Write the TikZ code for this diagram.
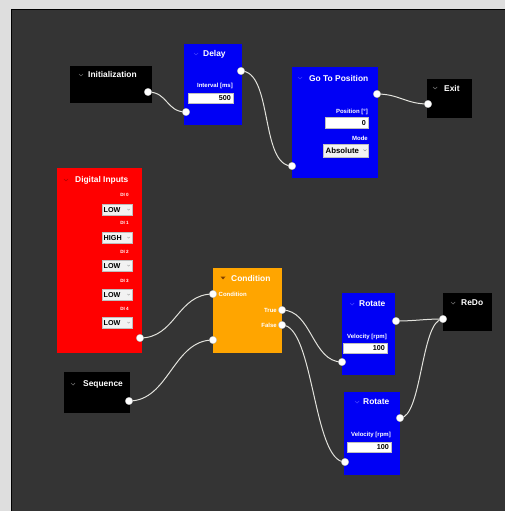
\documentclass[tikz,border=0pt]{standalone}
\usepackage{fontspec}
\setmainfont{Liberation Sans}
\pgfdeclarelayer{bg}
\pgfdeclarelayer{wires}
\pgfsetlayers{bg,wires,main}
\definecolor{panel}{HTML}{343434}
\definecolor{outer}{HTML}{DEDEDE}
\definecolor{nblue}{HTML}{0000F5}
\definecolor{nred}{HTML}{FF0000}
\definecolor{norange}{HTML}{FFA500}
\definecolor{wirec}{HTML}{E2E2DC}
\begin{document}
\begin{tikzpicture}[x=1pt,y=-1pt,
  nodebox/.style={rectangle, draw=none, inner sep=0pt, anchor=north west},
  title/.style={text=white, font=\bfseries\fontsize{8.4pt}{9pt}\selectfont, anchor=west, inner sep=0pt},
  lbl/.style={text=white, font=\bfseries\fontsize{6pt}{6.5pt}\selectfont, anchor=east, inner sep=0pt},
  lblw/.style={lbl, anchor=west},
  field/.style={rectangle, fill=white, draw=black!25, line width=0.4pt, anchor=north west, inner sep=0pt},
  combo/.style={field, fill=black!5},
  val/.style={text=black, font=\bfseries\fontsize{7.2pt}{7.5pt}\selectfont, inner sep=0pt},
  port/.style={circle, fill=white, draw=black!30, line width=0.3pt, minimum size=7.5pt, inner sep=0pt},
  wire/.style={draw=wirec, line width=1pt},
  chev/.style={line width=0.7pt, line cap=round, line join=round}
]
\useasboundingbox (0,0) rectangle (504,511);
\begin{pgfonlayer}{bg}
\fill[outer] (-2,-2) rectangle (507,514);
\fill[panel] (11,9) rectangle (507,514);
\draw[black, line width=1.3pt] (11.6,514) -- (11.6,9.6) -- (507,9.6);
\end{pgfonlayer}

% ---------- Initialization
\node[nodebox, fill=black, minimum width=82pt, minimum height=37pt] (init) at (70,66) {};
\draw[chev, black!60] (79,74) -- (81,76) -- (83,74);
\node[title] at (88,74.5) {Initialization};
\node[port] (initout) at (148,92) {};

% ---------- Delay
\node[nodebox, fill=nblue, minimum width=58pt, minimum height=81pt] (delay) at (184,44) {};
\draw[chev, blue!60!white!60!blue] (194,53) -- (196,55) -- (198,53);
\node[title] at (203,54) {Delay};
\node[port] (delayout) at (241,71) {};
\node[lbl] at (233,86) {Interval [ms]};
\node[field, minimum width=45pt, minimum height=10pt] (delayf) at (188,93) {};
\node[val, anchor=east] at (231,98.3) {500};
\node[port] (delayin) at (186,112) {};

% ---------- Go To Position
\node[nodebox, fill=nblue, minimum width=86pt, minimum height=111pt] (goto) at (292,67) {};
\draw[chev, blue!60!white!60!blue] (298,77) -- (300,79) -- (302,77);
\node[title] at (309,78) {Go To Position};
\node[port] (gotoout) at (377,94) {};
\node[lbl] at (368,112) {Position [°]};
\node[field, minimum width=43pt, minimum height=11pt] (gotof) at (325,117) {};
\node[val, anchor=east] at (366,122.6) {0};
\node[lbl] at (368,138) {Mode};
\node[combo, minimum width=45pt, minimum height=13pt] (gotom) at (323,144) {};
\node[val, anchor=west, font=\bfseries\fontsize{7.8pt}{8pt}\selectfont] at (325.5,150.5) {Absolute};
\draw[chev, black!40, line width=0.5pt] (363.5,149.5) -- (365,151) -- (366.5,149.5);
\node[port] (gotoin) at (292,166) {};

% ---------- Exit
\node[nodebox, fill=black, minimum width=45pt, minimum height=39pt] (exit) at (427,79) {};
\draw[chev, black!60] (433,87) -- (435,89) -- (437,87);
\node[title] at (444,88) {Exit};
\node[port] (exitin) at (428,104) {};

% ---------- Digital Inputs
\node[nodebox, fill=nred, minimum width=85pt, minimum height=185pt] (di) at (57,168) {};
\draw[chev, red!70!black] (64,179) -- (66,181) -- (68,179);
\node[title] at (75,180) {Digital Inputs};
\foreach \i/\ly/\fy/\v in {0/195/204/LOW, 1/223/232/HIGH, 2/252/260/LOW, 3/281/289/LOW, 4/309/317/LOW}{
  \node[lbl, font=\bfseries\fontsize{4.6pt}{5pt}\selectfont] at (129,\ly) {DI \i};
  \node[combo, minimum width=30pt, minimum height=11pt] (dif\i) at (102,\fy) {};
  \node[val, anchor=west] at (103.5,\fy+5.7) {\v};
  \draw[chev, black!35, line width=0.4pt] (127.5,\fy+5) -- (128.7,\fy+6.2) -- (129.9,\fy+5);
}
\node[port] (diout) at (140,338) {};

% ---------- Condition
\node[nodebox, fill=norange, minimum width=69pt, minimum height=85pt] (cond) at (213,268) {};
\fill[orange!50!black] (220.5,276.5) -- (225.5,276.5) -- (223,279.5) -- cycle;
\node[title] at (231,278) {Condition};
\node[port] (condin) at (213,294) {};
\node[lblw] at (218.5,294) {Condition};
\node[port] (condtrue) at (282,310) {};
\node[lbl] at (277,310) {True};
\node[port] (condfalse) at (282,325) {};
\node[lbl] at (277,325) {False};
\node[port] (condin2) at (213,340) {};

% ---------- Rotate 1
\node[nodebox, fill=nblue, minimum width=53pt, minimum height=82pt] (rot1) at (342,293) {};
\draw[chev, blue!60!white!60!blue] (350,303) -- (352,305) -- (354,303);
\node[title] at (359,304) {Rotate};
\node[port] (rot1out) at (396,321) {};
\node[lbl] at (387,337) {Velocity [rpm]};
\node[field, minimum width=44pt, minimum height=10pt] (rot1f) at (343,343) {};
\node[val, anchor=east] at (385,348.3) {100};
\node[port] (rot1in) at (342,362) {};

% ---------- ReDo
\node[nodebox, fill=black, minimum width=49pt, minimum height=38pt] (redo) at (443,293) {};
\draw[chev, black!60] (451,302) -- (453,304) -- (455,302);
\node[title] at (461,303) {ReDo};
\node[port] (redoin) at (443,319) {};

% ---------- Sequence
\node[nodebox, fill=black, minimum width=66pt, minimum height=41pt] (seq) at (64,372) {};
\draw[chev, black!60] (71,383) -- (73,385) -- (75,383);
\node[title] at (83,384) {Sequence};
\node[port] (seqout) at (129,401) {};

% ---------- Rotate 2
\node[nodebox, fill=nblue, minimum width=56pt, minimum height=83pt] (rot2) at (344,392) {};
\draw[chev, blue!60!white!60!blue] (355,401) -- (357,403) -- (359,401);
\node[title] at (363,402) {Rotate};
\node[port] (rot2out) at (400,418) {};
\node[lbl] at (391,435) {Velocity [rpm]};
\node[field, minimum width=44pt, minimum height=10pt] (rot2f) at (347,442) {};
\node[val, anchor=east] at (389,447.3) {100};
\node[port] (rot2in) at (345,462) {};

% ---------- wires
\begin{pgfonlayer}{wires}
\draw[wire] (initout.center) .. controls +(20,0) and +(-20,0) .. (delayin.center);
\draw[wire] (delayout.center) .. controls +(32,0) and +(-32,0) .. (gotoin.center);
\draw[wire] (gotoout.center) .. controls +(22,0) and +(-22,0) .. (exitin.center);
\draw[wire] (diout.center) .. controls +(36,0) and +(-36,0) .. (condin.center);
\draw[wire] (seqout.center) .. controls +(40,0) and +(-40,0) .. (condin2.center);
\draw[wire] (condtrue.center) .. controls +(30,0) and +(-30,0) .. (rot1in.center);
\draw[wire] (condfalse.center) .. controls +(32,0) and +(-32,0) .. (rot2in.center);
\draw[wire] (rot1out.center) .. controls +(20,0) and +(-20,0) .. (redoin.center);
\draw[wire] (rot2out.center) .. controls +(22,0) and +(-22,0) .. (redoin.center);
\end{pgfonlayer}
\end{tikzpicture}
\end{document}
